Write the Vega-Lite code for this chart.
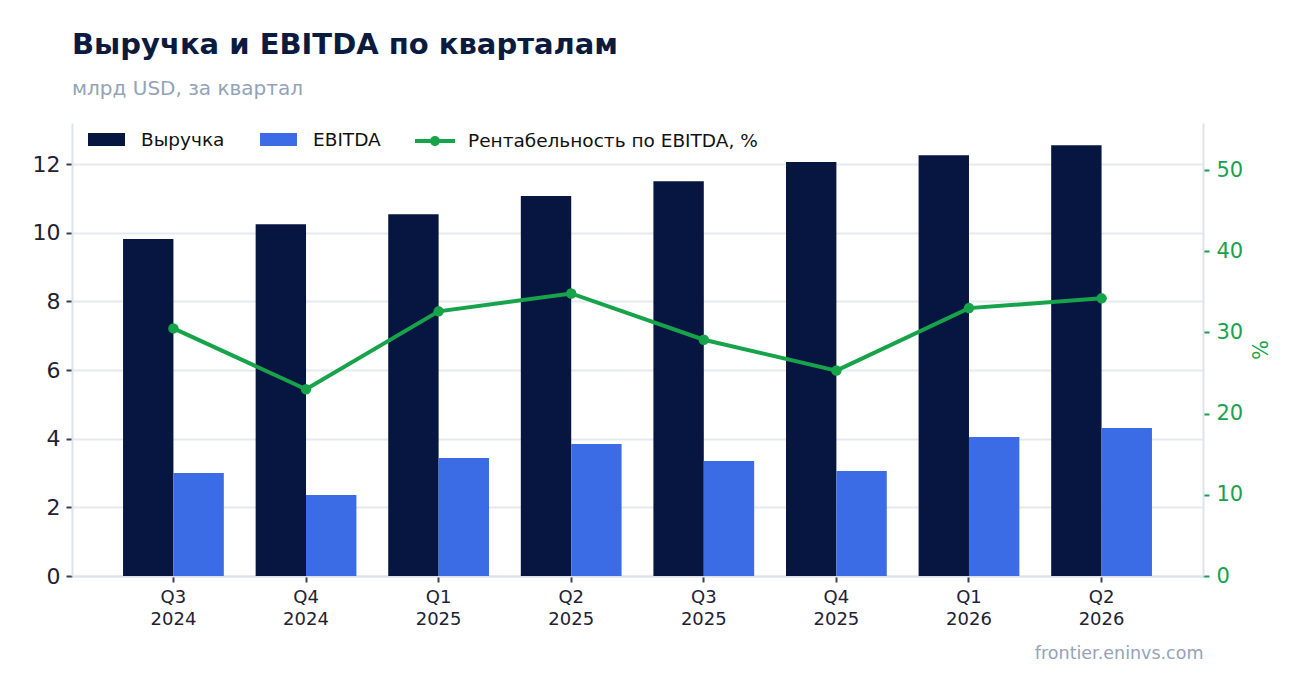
{
  "$schema": "https://vega.github.io/schema/vega-lite/v6.json",
  "width": 1131,
  "height": 453,
  "autosize": {"type": "none"},
  "padding": {"left": 72, "top": 123, "right": 99, "bottom": 117},
  "config": {
    "font": "DejaVu Sans",
    "view": {"stroke": null},
    "axis": {"labelFont": "DejaVu Sans", "titleFont": "DejaVu Sans"},
    "legend": {"labelFont": "DejaVu Sans"}
  },
  "title": {
    "text": "Выручка и EBITDA по кварталам",
    "subtitle": "млрд USD, за квартал",
    "anchor": "start",
    "frame": "group",
    "fontSize": 29,
    "fontWeight": "bold",
    "color": "#0b1a3f",
    "subtitleFontSize": 20,
    "subtitleColor": "#94a3b8",
    "subtitlePadding": 19,
    "offset": 22
  },
  "data": {
    "values": [
      {"q": "Q3 2024", "Выручка": 9.82, "EBITDA": 3.0, "margin": 30.5},
      {"q": "Q4 2024", "Выручка": 10.25, "EBITDA": 2.36, "margin": 23.0},
      {"q": "Q1 2025", "Выручка": 10.54, "EBITDA": 3.44, "margin": 32.6},
      {"q": "Q2 2025", "Выручка": 11.07, "EBITDA": 3.85, "margin": 34.8},
      {"q": "Q3 2025", "Выручка": 11.5, "EBITDA": 3.35, "margin": 29.1},
      {"q": "Q4 2025", "Выручка": 12.06, "EBITDA": 3.06, "margin": 25.3},
      {"q": "Q1 2026", "Выручка": 12.26, "EBITDA": 4.05, "margin": 33.0},
      {"q": "Q2 2026", "Выручка": 12.55, "EBITDA": 4.31, "margin": 34.2}
    ]
  },
  "encoding": {
    "x": {
      "field": "q",
      "type": "nominal",
      "sort": null,
      "scale": {"paddingInner": 0.24, "paddingOuter": 0.385},
      "axis": {
        "title": "frontier.eninvs.com",
        "titleAnchor": "end",
        "titleColor": "#94a3b8",
        "titleFontSize": 17.5,
        "titleFontWeight": "normal",
        "titlePadding": 16,
        "labelAngle": 0,
        "labelExpr": "split(datum.label, ' ')",
        "labelLineHeight": 22,
        "labelFontSize": 18,
        "labelColor": "#1e2235",
        "labelPadding": 6,
        "tickSize": 6,
        "tickWidth": 2,
        "tickColor": "#3b3f52",
        "domainColor": "#dde3ee",
        "domainWidth": 2,
        "grid": false
      }
    }
  },
  "layer": [
    {
      "transform": [{"fold": ["Выручка", "EBITDA"], "as": ["series", "value"]}],
      "mark": {"type": "bar"},
      "encoding": {
        "xOffset": {"field": "series", "type": "nominal", "scale": {"domain": ["Выручка", "EBITDA"], "paddingInner": 0, "paddingOuter": 0}},
        "y": {
          "field": "value",
          "type": "quantitative",
          "scale": {"domain": [0, 13.2], "nice": false},
          "axis": {
            "title": null,
            "values": [0, 2, 4, 6, 8, 10, 12],
            "grid": true,
            "gridColor": "#e5e9f0",
            "gridWidth": 2,
            "domainColor": "#dde3ee",
            "domainWidth": 2,
            "tickColor": "#3b3f52",
            "tickWidth": 2,
            "tickSize": 6,
            "labelPadding": 6,
            "labelFontSize": 22,
            "labelColor": "#1e2235"
          }
        },
        "color": {
          "field": "series",
          "type": "nominal",
          "scale": {"domain": ["Выручка", "EBITDA"], "range": ["#061640", "#3b6ce6"]},
          "legend": {
            "orient": "none",
            "legendX": 16,
            "legendY": -2,
            "direction": "horizontal",
            "title": null,
            "padding": 0,
            "symbolType": "M-1,-0.35H1V0.35H-1Z",
            "symbolSize": 1369,
            "symbolStrokeWidth": 0,
            "symbolOpacity": 1,
            "labelFontSize": 18.5,
            "labelLimit": 0,
            "labelColor": "#111111",
            "labelOffset": 16,
            "columnPadding": 35
          }
        }
      }
    },
    {
      "mark": {"type": "line", "strokeWidth": 4, "point": {"filled": true, "size": 110}},
      "encoding": {
        "y": {
          "field": "margin",
          "type": "quantitative",
          "scale": {"domain": [0, 55.8], "nice": false},
          "axis": {
            "orient": "right",
            "title": "%",
            "titleColor": "#16a34a",
            "titleFontSize": 21,
            "titleFontWeight": "normal",
            "titlePadding": 5,
            "values": [0, 10, 20, 30, 40, 50],
            "grid": false,
            "domainColor": "#dde3ee",
            "domainWidth": 2,
            "tickColor": "#16a34a",
            "tickWidth": 2,
            "tickSize": 6,
            "labelPadding": 7,
            "labelFontSize": 21,
            "labelColor": "#16a34a"
          }
        },
        "color": {
          "datum": "Рентабельность по EBITDA, %",
          "scale": {"range": ["#16a34a"]},
          "legend": {
            "orient": "none",
            "legendX": 343,
            "legendY": -2,
            "direction": "horizontal",
            "title": null,
            "padding": 0,
            "symbolType": "M-1,-0.1H1V0.1H-1Z M0.25,0A0.25,0.25 0 1,1 -0.25,0A0.25,0.25 0 1,1 0.25,0Z",
            "symbolSize": 1600,
            "symbolStrokeWidth": 0,
            "symbolFillColor": "#16a34a",
            "symbolOpacity": 1,
            "labelFontSize": 18.5,
            "labelLimit": 0,
            "labelColor": "#111111",
            "labelOffset": 13
          }
        }
      }
    }
  ],
  "resolve": {"scale": {"y": "independent", "color": "independent"}}
}
